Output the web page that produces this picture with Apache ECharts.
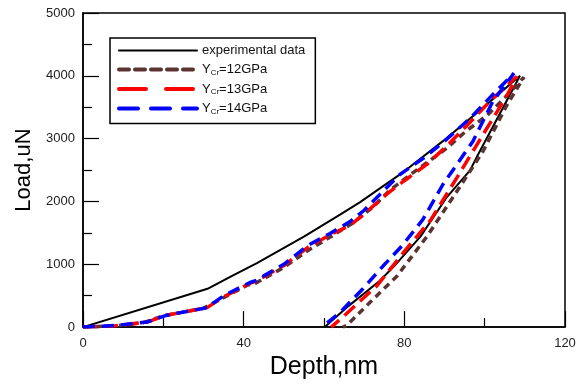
<!DOCTYPE html>
<html><head><meta charset="utf-8">
<script src="https://cdn.jsdelivr.net/npm/echarts@6/dist/echarts.min.js"></script>
<style>html,body{margin:0;padding:0;background:#fff}#c{width:584px;height:385px}</style>
</head><body><div id="c"></div>
<script>
// Experimental data (loading then unloading)
const expDepth = [0,31,37,43.3,55,64,69,80,89.6,98.8,108.8, 98.3,96.3,90.6,84,77.7,73.9,66,60.2];
const expLoad  = [0,610,810,1020,1440,1790,1990,2480,2960,3450,4000, 2740,2490,2070,1440,987,737,330,0];
// Y_Cr = 12 GPa
const y12Depth = [0,8,15,20,30,35,41,43,50,56,62,67,72.2,76.4,82,90.6,95,100.6,105,109.8, 105.5,99.6,93.8,85.6,78.2,71.4,65.7,64.7];
const y12Load  = [0,20,70,180,300,470,670,700,950,1220,1450,1650,1910,2180,2450,2850,3100,3370,3650,3980, 3530,2800,2230,1440,815,390,30,0];
// Y_Cr = 13 GPa
const y13Depth = [0,8,15.9,20.9,30.9,35,41.6,43,50,56,61.5,66.5,70,75.7,80,85.6,90,95.6,102,108, 105.5,100.6,93.1,86.5,79.7,73.2,65.7,61.8];
const y13Load  = [0,20,80,190,310,480,700,730,980,1270,1470,1620,1800,2120,2330,2590,2850,3210,3640,3990, 3680,3170,2380,1700,1180,660,220,0];
// Y_Cr = 14 GPa
const y14Depth = [0,8,15.9,20.9,30.9,35,41.6,43,50,56,61.5,66.5,70,78.9,85,90,96.3,102,107.3, 102,97.1,89.6,84.6,79.5,74.7,69.7,64,59.5];
const y14Load  = [0,25,80,190,310,500,710,740,1000,1300,1490,1680,1860,2430,2700,2960,3320,3700,4040, 3590,2960,2270,1710,1300,972,611,235,0];

const seriesNames = ['experimental data','Y_Cr=12GPa','Y_Cr=13GPa','Y_Cr=14GPa'];
const xTicks = {min:0, max:120, interval:40};
const yTicks = {min:0, max:5000, interval:1000};

const zip = (a,b)=>a.map((v,i)=>[v,b[i]]);
const chart = echarts.init(document.getElementById('c'), null, {renderer:'canvas'});
const font = 'Liberation Sans, Arial, sans-serif';
const axisCommon = {
  axisLine:{show:true,lineStyle:{color:'#000',width:1.5}},
  axisTick:{show:true,inside:true,length:16,lineStyle:{color:'#000',width:1.2}},
  minorTick:{show:true,splitNumber:2,length:9,lineStyle:{color:'#000',width:1.2}},
  splitLine:{show:false}
};
const colors = ['#000000','#5c3333','#ff0000','#0000ff'];
const legendDash = ['solid',[10,6],[27,20],[19,13]];
chart.setOption({
  animation:false,
  grid:{left:83,right:19,top:13,bottom:53,show:true,borderColor:'#000',borderWidth:1.5},
  xAxis:Object.assign({type:'value',min:xTicks.min,max:xTicks.max,interval:xTicks.interval,
    name:'Depth,nm',nameLocation:'middle',nameGap:26,
    nameTextStyle:{fontFamily:font,fontSize:25,color:'#000'}},axisCommon,
    {axisLabel:{color:'#222',fontFamily:font,fontSize:13,margin:10,formatter:v=>String(v)}}),
  yAxis:Object.assign({type:'value',min:yTicks.min,max:yTicks.max,interval:yTicks.interval,
    name:'Load,uN',nameLocation:'middle',nameGap:48,
    nameTextStyle:{fontFamily:font,fontSize:22,color:'#000'}},axisCommon,
    {axisLabel:{color:'#222',fontFamily:font,fontSize:13,margin:8,formatter:v=>String(v)}}),
  legend:{
    orient:'vertical',left:110,top:38,
    padding:[6,10,8,7],itemWidth:78,itemHeight:14,itemGap:6,
    borderColor:'#000',borderWidth:1.5,
    itemStyle:{opacity:0},
    data:seriesNames.map((n,i)=>({name:n,itemStyle:{opacity:0},
      lineStyle:{color:colors[i],width:i===0?2:4,type:legendDash[i],cap:'round'}})),
    formatter:function(n){
      if(n.indexOf('Y_Cr')===0){return '{a|Y}{s|Cr}{a|'+n.slice(4)+'}';}
      return '{a|'+n+'}';
    },
    textStyle:{fontFamily:font,fontSize:13,color:'#111',
      rich:{a:{fontFamily:font,fontSize:13,color:'#111'},
            s:{fontFamily:font,fontSize:8,color:'#111',verticalAlign:'bottom',padding:[6,0,0,0]}}}
  },
  series:[
    {name:seriesNames[0],type:'line',symbol:'none',data:zip(expDepth,expLoad),
      lineStyle:{color:colors[0],width:2},itemStyle:{color:colors[0]},z:2},
    {name:seriesNames[1],type:'line',symbol:'none',data:zip(y12Depth,y12Load),
      lineStyle:{color:colors[1],width:3.5,type:[7,5]},itemStyle:{color:colors[1]},z:3},
    {name:seriesNames[2],type:'line',symbol:'none',data:zip(y13Depth,y13Load),
      lineStyle:{color:colors[2],width:3.5,type:[14,7]},itemStyle:{color:colors[2]},z:4},
    {name:seriesNames[3],type:'line',symbol:'none',data:zip(y14Depth,y14Load),
      lineStyle:{color:colors[3],width:3.5,type:[12,7]},itemStyle:{color:colors[3]},z:5}
  ]
});
</script></body></html>
